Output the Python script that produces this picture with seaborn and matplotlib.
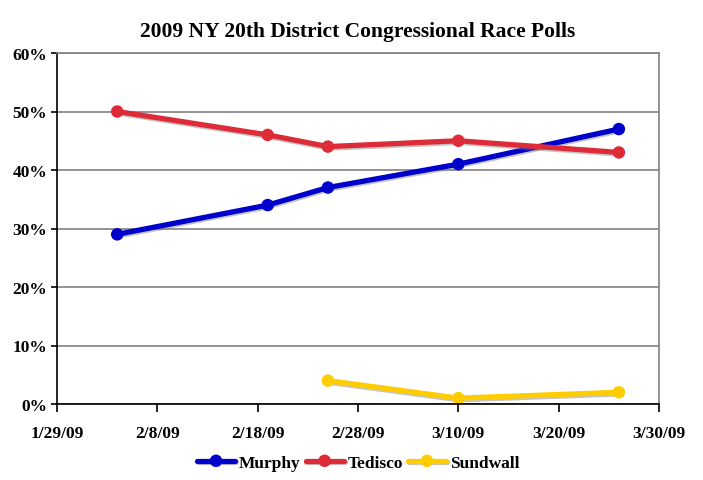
import pandas as pd
import matplotlib
matplotlib.use("Agg")
import matplotlib.pyplot as plt
import matplotlib.patheffects as pe
import seaborn as sns

murphy_dates = ["2009-02-04", "2009-02-19", "2009-02-25", "2009-03-10", "2009-03-26"]
murphy = [29, 34, 37, 41, 47]
tedisco_dates = ["2009-02-04", "2009-02-19", "2009-02-25", "2009-03-10", "2009-03-26"]
tedisco = [50, 46, 44, 45, 43]
sundwall_dates = ["2009-02-25", "2009-03-10", "2009-03-26"]
sundwall = [4, 1, 2]

candidates = ["Murphy", "Tedisco", "Sundwall"]
colors = ["#0000CC", "#DD2C38", "#FFCC00"]
x_ticks = ["2009-01-29", "2009-02-08", "2009-02-18", "2009-02-28",
           "2009-03-10", "2009-03-20", "2009-03-30"]

frames = []
for name, dates, vals in [("Murphy", murphy_dates, murphy),
                          ("Tedisco", tedisco_dates, tedisco),
                          ("Sundwall", sundwall_dates, sundwall)]:
    frames.append(pd.DataFrame({"date": pd.to_datetime(dates), "pct": vals, "candidate": name}))
df = pd.concat(frames, ignore_index=True)

sns.set_style("white")
plt.rcParams["font.family"] = ["Liberation Serif", "DejaVu Serif"]
plt.rcParams["font.weight"] = "bold"
plt.rcParams["text.color"] = "black"
plt.rcParams["xtick.color"] = "black"
plt.rcParams["ytick.color"] = "black"

fig = plt.figure(figsize=(7.03, 4.81), dpi=100)
ax = fig.add_axes([57 / 703, 1 - 405 / 481, (659 - 57) / 703, (405 - 54) / 481])

sns.lineplot(data=df, x="date", y="pct", hue="candidate", hue_order=candidates,
             palette=dict(zip(candidates, colors)), marker="o", markersize=9,
             markeredgewidth=0, linewidth=3.8, ax=ax, legend=True)

shadow = [pe.SimpleLineShadow(offset=(0.6, -1.2), shadow_color="gray", alpha=0.45), pe.Normal()]
for line in ax.get_lines():
    line.set_path_effects(shadow)

ticks = pd.to_datetime(x_ticks)
ax.set_xlim(ticks[0], ticks[-1])
ax.set_xticks(ticks)
ax.set_xticklabels([f"{d.month}/{d.day}/{d:%y}" for d in ticks], fontsize=12.5, fontweight="bold")
ax.set_ylim(0, 60)
ax.set_yticks(range(0, 61, 10))
ax.set_yticklabels([f"{v}%" for v in range(0, 61, 10)], fontsize=12.5, fontweight="bold")
ax.set_xlabel("")
ax.set_ylabel("")

ax.yaxis.grid(True, color="#808080", linewidth=1.2)
ax.set_axisbelow(True)
for side in ["top", "right"]:
    ax.spines[side].set_color("#808080")
    ax.spines[side].set_linewidth(1.2)
for side in ["left", "bottom"]:
    ax.spines[side].set_color("black")
    ax.spines[side].set_linewidth(1.2)
ax.tick_params(axis="x", direction="out", length=6, width=1.2, bottom=True, pad=9)
ax.tick_params(axis="y", direction="out", length=4, width=1.2, left=True, pad=3)

ax.set_title("2009 NY 20th District Congressional Race Polls", fontsize=15.5,
             fontweight="bold", color="black", pad=12)

handles, labels = ax.get_legend_handles_labels()
ax.legend(handles, labels, loc="upper center", bbox_to_anchor=(0.5, -0.1), ncol=3,
          frameon=False, handlelength=2.2, handletextpad=0.2,
          columnspacing=0.3, prop={"weight": "bold", "size": 12.5})

fig.savefig("out.png", dpi=100)
